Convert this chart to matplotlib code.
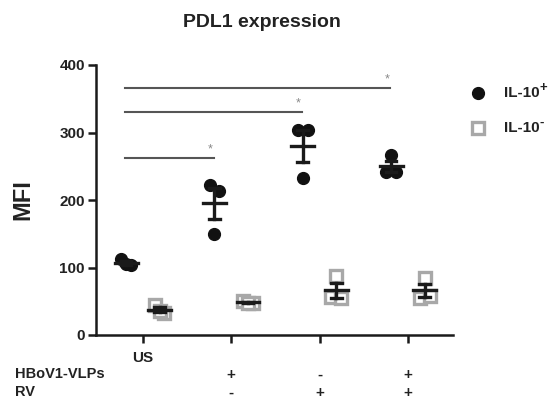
import numpy as np
import matplotlib
matplotlib.use('Agg')
import matplotlib.pyplot as plt
from matplotlib.lines import Line2D

plt.rcParams['font.family'] = ['Liberation Sans', 'DejaVu Sans']

# data
groups = ['US', 'HBoV1-VLPs', 'RV', 'HBoV1-VLPs + RV']
vlps_row = ['', '+', '-', '+']
rv_row = ['', '-', '+', '+']
il10_pos = [[112, 103, 105], [222, 214, 150], [303, 303, 233], [242, 242, 266]]
il10_neg = [[44, 32, 36], [50, 48, 47], [56, 55, 88], [55, 58, 85]]
series_labels = ['IL-10', 'IL-10']
series_sup = ['+', '-']
# significance bars: (from group, to group, height)
sig_bars = [(0, 1, 262), (0, 2, 330), (0, 3, 366)]

W, H = 551, 401
fig = plt.figure(figsize=(W / 100, H / 100), dpi=100)
ax = fig.add_axes([96 / W, 1 - 335 / H, 357 / W, 270 / H])

x = np.arange(1, len(groups) + 1)
jitter = np.array([-0.055, 0.055, 0.0])
off = 0.19
dark = '#1a1a1a'
txt = '#222222'


def draw_group(xc, vals, style):
    vals = np.array(vals, dtype=float)
    m = vals.mean()
    sem = vals.std(ddof=1) / np.sqrt(len(vals))
    ax.plot(xc + jitter, vals, linestyle='none', zorder=3, **style)
    ax.plot([xc - 0.13, xc + 0.13], [m, m], color=dark, lw=2.4, zorder=4)
    ax.plot([xc, xc], [m - sem, m + sem], color=dark, lw=2.4, zorder=4)
    for v in (m - sem, m + sem):
        ax.plot([xc - 0.06, xc + 0.06], [v, v], color=dark, lw=2.4, zorder=4)


pos_style = dict(marker='o', markersize=8.5, color='#111111', mec='#111111')
neg_style = dict(marker='s', markersize=8, mfc='white', mec='#a8a8a8', mew=2.4)

for i in range(len(groups)):
    draw_group(x[i] - off, il10_pos[i], pos_style)
    draw_group(x[i] + off, il10_neg[i], neg_style)

# significance lines
for a, b, h in sig_bars:
    x0 = x[a] - off - 0.01
    x1 = x[b] - off - 0.01
    ax.plot([x0, x1], [h, h], color='#555555', lw=1.5, clip_on=False)
    ax.text(x1 - 0.04, h + 4, '*', color='#888888', fontsize=9, ha='center', va='bottom')

ax.set_xlim(0.47, 4.51)
ax.set_ylim(0, 400)
ax.set_yticks([0, 100, 200, 300, 400])
ax.set_xticks(x)
ax.set_xticklabels([])
for s in ['top', 'right']:
    ax.spines[s].set_visible(False)
for s in ['left', 'bottom']:
    ax.spines[s].set_linewidth(1.8)
    ax.spines[s].set_color(dark)
ax.tick_params(axis='both', width=1.8, length=6, color=dark)
ax.tick_params(axis='y', labelsize=11, pad=2)
for lab in ax.get_yticklabels():
    lab.set_fontweight('bold')
    lab.set_color(txt)

ax.set_ylabel('MFI', fontsize=17, fontweight='bold', labelpad=18, color=txt)
fig.text(0.475, 0.945, 'PDL1 expression', fontsize=14, fontweight='bold',
         ha='center', va='center', color=txt)

# condition rows below the axis
ax.text(x[0], -34, 'US', fontsize=11, fontweight='bold', ha='center', va='center',
        color=txt)
fig.text(15 / W, 1 - 374 / H, 'HBoV1-VLPs', fontsize=10.5, fontweight='bold',
         va='center', color=txt)
fig.text(15 / W, 1 - 392 / H, 'RV', fontsize=10.5, fontweight='bold',
         va='center', color=txt)
for i in range(len(groups)):
    ax.text(x[i], -59, vlps_row[i], fontsize=11, fontweight='bold', ha='center',
            va='center', color=txt)
    ax.text(x[i], -86, rv_row[i], fontsize=11, fontweight='bold', ha='center',
            va='center', color=txt)

# legend, placed by hand
for style, label, sup, yp in zip([pos_style, neg_style], series_labels, series_sup, [93, 128]):
    fig.add_artist(Line2D([478 / W], [1 - yp / H], linestyle='none',
                          transform=fig.transFigure, **style))
    fig.text(504 / W, 1 - yp / H, label, fontsize=11, fontweight='bold',
             va='center', ha='left', color=txt)
    fig.text(540 / W, 1 - (yp - 5) / H, sup, fontsize=9.5, fontweight='bold',
             va='center', ha='left', color=txt)

fig.savefig('out.png', dpi=100)
